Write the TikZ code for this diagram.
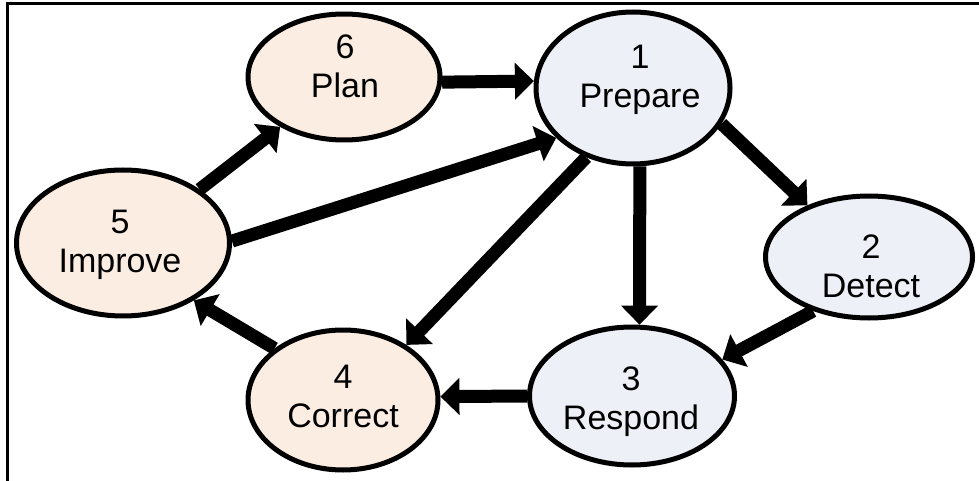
\documentclass[tikz,border=0pt]{standalone}
\usepackage{fontspec}
\setmainfont{Liberation Sans}
\usetikzlibrary{shapes.geometric,arrows.meta}
\definecolor{peach}{RGB}{252,237,226}
\definecolor{bluegray}{RGB}{237,240,246}
\begin{document}
\begin{tikzpicture}[x=1pt,y=-1pt,
  stage/.style={ellipse,draw=black,line width=5pt,inner sep=0pt},
  warm/.style={stage,fill=peach},
  cool/.style={stage,fill=bluegray},
  lbl/.style={align=center,font=\fontsize{34}{39}\selectfont,inner sep=0pt},
  flow/.style={line width=13pt,-{Triangle[width=36pt,length=19pt]}}]
\useasboundingbox (0,0) rectangle (979,481);
\draw[line width=3pt] (7.5,481) -- (7.5,3.5) -- (979,3.5);
% ellipses
\node[warm,minimum width=192pt,minimum height=126pt] (plan) at (344,77) {};
\node[cool,minimum width=194pt,minimum height=152pt] (prep) at (633,88) {};
\node[cool,minimum width=207pt,minimum height=122pt] (det) at (869,257) {};
\node[cool,minimum width=205pt,minimum height=138pt] (resp) at (632,396) {};
\node[warm,minimum width=190pt,minimum height=140pt] (corr) at (343,400) {};
\node[warm,minimum width=213pt,minimum height=146pt] (imp) at (123,243) {};
% labels
\node[lbl] (tplan) at (345,66) {6\\Plan};
\node[lbl] (tprep) at (640,80) {1\\Prepare};
\node[lbl] (tdet) at (871,266) {2\\Detect};
\node[lbl] (tresp) at (631,402) {3\\Respond};
\node[lbl] (tcorr) at (343,396) {4\\Correct};
\node[lbl] (timp) at (120,245) {5\\Improve};
% connectors
\draw[flow] (plan.-3) -- (prep.176.6);
\draw[flow] (imp.35.6) -- (plan.218);
\draw[flow] (imp.1.6) -- (prep.213);
\draw[flow] (prep.-22.8) -- (det.140);
\draw[flow] (prep.236) -- (corr.41.5);
\draw[flow] (prep.-85.5) -- (resp.84.6);
\draw[flow] (det.224) -- (resp.22.8);
\draw[flow] (resp.180) -- (corr.2.4);
\draw[flow] (corr.143.7) -- (imp.-39);
\end{tikzpicture}
\end{document}
